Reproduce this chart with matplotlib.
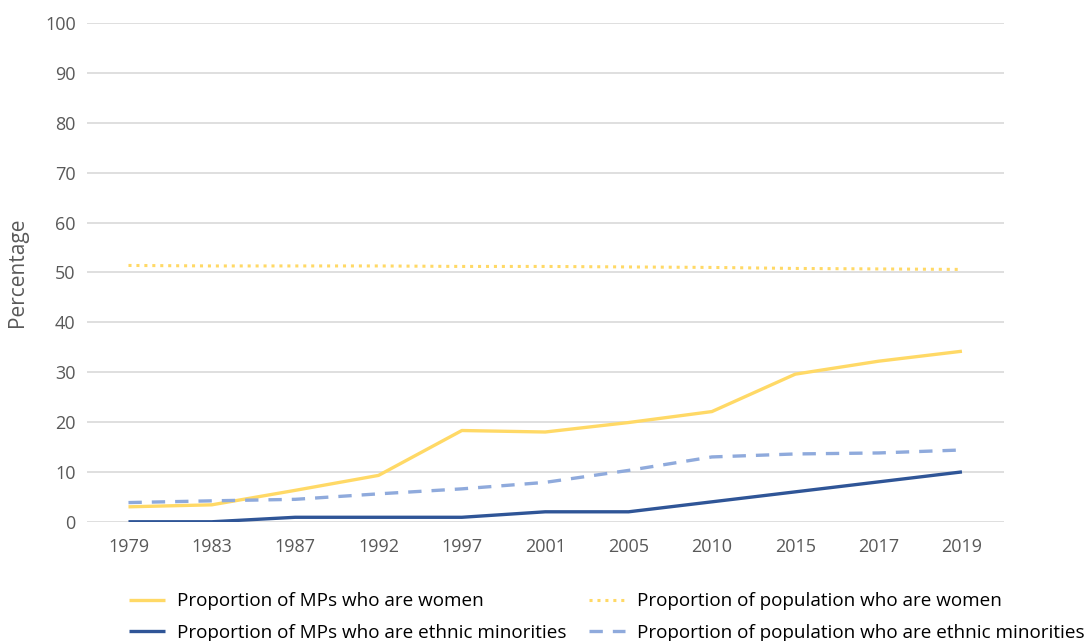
import matplotlib.pyplot as plt

plt.rcParams['font.family'] = ['Open Sans', 'DejaVu Sans']

years = ['1979', '1983', '1987', '1992', '1997', '2001', '2005', '2010', '2015', '2017', '2019']
mps_women = [3.0, 3.4, 6.3, 9.3, 18.3, 18.0, 19.9, 22.1, 29.6, 32.2, 34.2]
mps_ethnic = [0.0, 0.0, 0.9, 0.9, 0.9, 2.0, 2.0, 4.0, 6.0, 8.0, 10.0]
pop_women = [51.4, 51.3, 51.3, 51.3, 51.2, 51.2, 51.1, 51.0, 50.8, 50.7, 50.6]
pop_ethnic = [3.85, 4.2, 4.5, 5.6, 6.6, 7.9, 10.3, 13.0, 13.6, 13.8, 14.4]

gold = '#FFD966'
navy = '#2F5597'
light_blue = '#8FAADC'
grey_text = '#595959'

fig = plt.figure(figsize=(10.85, 6.41), dpi=100)
ax = fig.add_axes([0.080, 0.186, 0.845, 0.778])

x = range(len(years))
l1, = ax.plot(x, mps_women, color=gold, lw=2.4, solid_capstyle='butt',
              label='Proportion of MPs who are women')
l2, = ax.plot(x, mps_ethnic, color=navy, lw=2.4, solid_capstyle='butt',
              label='Proportion of MPs who are ethnic minorities')
l3, = ax.plot(x, pop_women, color=gold, lw=2.2, linestyle=(0, (1, 1.6)),
              label='Proportion of population who are women')
l4, = ax.plot(x, pop_ethnic, color=light_blue, lw=2.4, linestyle=(0, (4, 3)),
              label='Proportion of population who are ethnic minorities')

ax.set_xlim(-0.5, len(years) - 0.5)
ax.set_ylim(0, 100)
ax.set_yticks(range(0, 101, 10))
ax.set_xticks(list(x))
ax.set_xticklabels(years)
ax.grid(axis='y', color='#D9D9D9', lw=1.2)
ax.set_axisbelow(True)
for s in ax.spines.values():
    s.set_visible(False)
ax.tick_params(length=0, labelsize=13, labelcolor=grey_text, pad=8)
ax.tick_params(axis='x', pad=12)
ax.set_ylabel('Percentage', fontsize=15, color=grey_text, labelpad=12)

# two legend columns, placed separately
leg_kw = dict(frameon=False, loc='upper left', fontsize=13.6,
              handlelength=1.9, handletextpad=0.62, labelspacing=0.72,
              borderpad=0, borderaxespad=0)
fig.legend(handles=[l1, l2], bbox_to_anchor=(0.119, 0.076), **leg_kw)
fig.legend(handles=[l3, l4], bbox_to_anchor=(0.543, 0.076), **leg_kw)

fig.savefig('out.png', dpi=100)
